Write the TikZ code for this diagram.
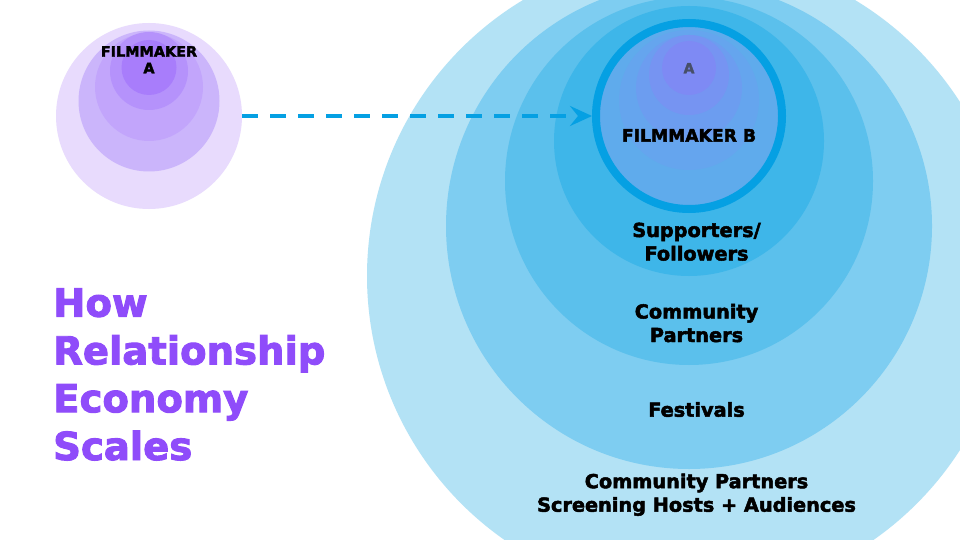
\documentclass[tikz,border=0pt]{standalone}
\usepackage{fontspec}
\setmainfont{DejaVu Sans}[BoldFeatures={FakeBold=2.5}]
\usetikzlibrary{arrows.meta}

\definecolor{audience}{HTML}{B3E2F5}
\definecolor{festival}{HTML}{7ECDF1}
\definecolor{partner}{HTML}{5BC0EC}
\definecolor{supporter}{HTML}{3EB6E9}
\definecolor{ringblue}{HTML}{05A0E3}
\definecolor{bcore}{HTML}{5FABEC}
\definecolor{bA}{HTML}{65A5EE}
\definecolor{bB}{HTML}{6C9DF0}
\definecolor{bC}{HTML}{7694F2}
\definecolor{bD}{HTML}{7E8AF4}
\definecolor{lilacA}{HTML}{E8DBFD}
\definecolor{lilacB}{HTML}{CBB5FB}
\definecolor{lilacC}{HTML}{C2A5FB}
\definecolor{lilacD}{HTML}{B592FB}
\definecolor{lilacE}{HTML}{A87DFB}
\definecolor{greyA}{HTML}{474F68}
\definecolor{headline}{HTML}{8F4CFA}

\begin{document}
\begin{tikzpicture}[x=1pt, y=-1pt,
    ringtext/.style={font=\bfseries\fontsize{19.3}{23.5}\selectfont, align=center, inner sep=0pt, anchor=base},
    title/.style={font=\bfseries\fontsize{38.6}{47.8}\selectfont, text=headline, align=left, inner sep=0pt, anchor=base west},
    dasharrow/.style={draw=ringblue, line width=4.3pt, dash pattern=on 15.7pt off 12.3pt,
        -{Stealth[length=22pt, width=20pt, inset=8pt]}}]
    \useasboundingbox (0,0) rectangle (960,540);
    \fill[white] (0,0) rectangle (960,540);

    % circles of filmmaker B
    \begin{scope}
        \clip (0,0) rectangle (960,540);
        \foreach \r/\cy/\col in {322/276/audience, 243/226/festival, 184/181/partner, 135/141/supporter}
            \fill[\col] (689,\cy) circle (\r pt);
    \end{scope}
    \node[circle, draw=ringblue, line width=8pt, fill=bcore, minimum size=186pt, inner sep=0pt] (filmB) at (689,116) {};
    \foreach \r/\cy/\col in {70/100/bA, 53/88/bB, 40/75/bC, 27/68/bD}
        \fill[\col] (689,\cy) circle (\r pt);

    % circles of filmmaker A
    \node[circle, fill=lilacA, minimum size=186pt, inner sep=0pt] (filmA) at (149,116) {};
    \foreach \r/\cy/\col in {70.5/101/lilacB, 54/87/lilacC, 39/71/lilacD, 27.5/67.5/lilacE}
        \fill[\col] (149,\cy) circle (\r pt);

    % multi-line nodes sit on the baseline of their last line
    \node[ringtext, font=\bfseries\fontsize{14.4}{16.6}\selectfont] (nameA) at (149,73.3) {FILMMAKER\\A};
    \node[ringtext, font=\bfseries\fontsize{14}{16}\selectfont, text=greyA] (copyA) at (689,73.3) {A};
    \node[ringtext, font=\bfseries\fontsize{17.2}{20}\selectfont] (nameB) at (689,141.7) {FILMMAKER B};

    \node[ringtext] (supporters) at (696.5,260.5) {Supporters/\\Followers};
    \node[ringtext] (partners) at (696.5,342) {Community\\Partners};
    \node[ringtext] (festivals) at (696.5,416.7) {Festivals};
    \node[ringtext] (audiences) at (696.5,511.7) {Community Partners\\Screening Hosts + Audiences};

    \node[title] (heading) at (53,460) {How\\Relationship\\Economy\\Scales};

    \draw[dasharrow] (filmA) -- (filmB);
\end{tikzpicture}
\end{document}
